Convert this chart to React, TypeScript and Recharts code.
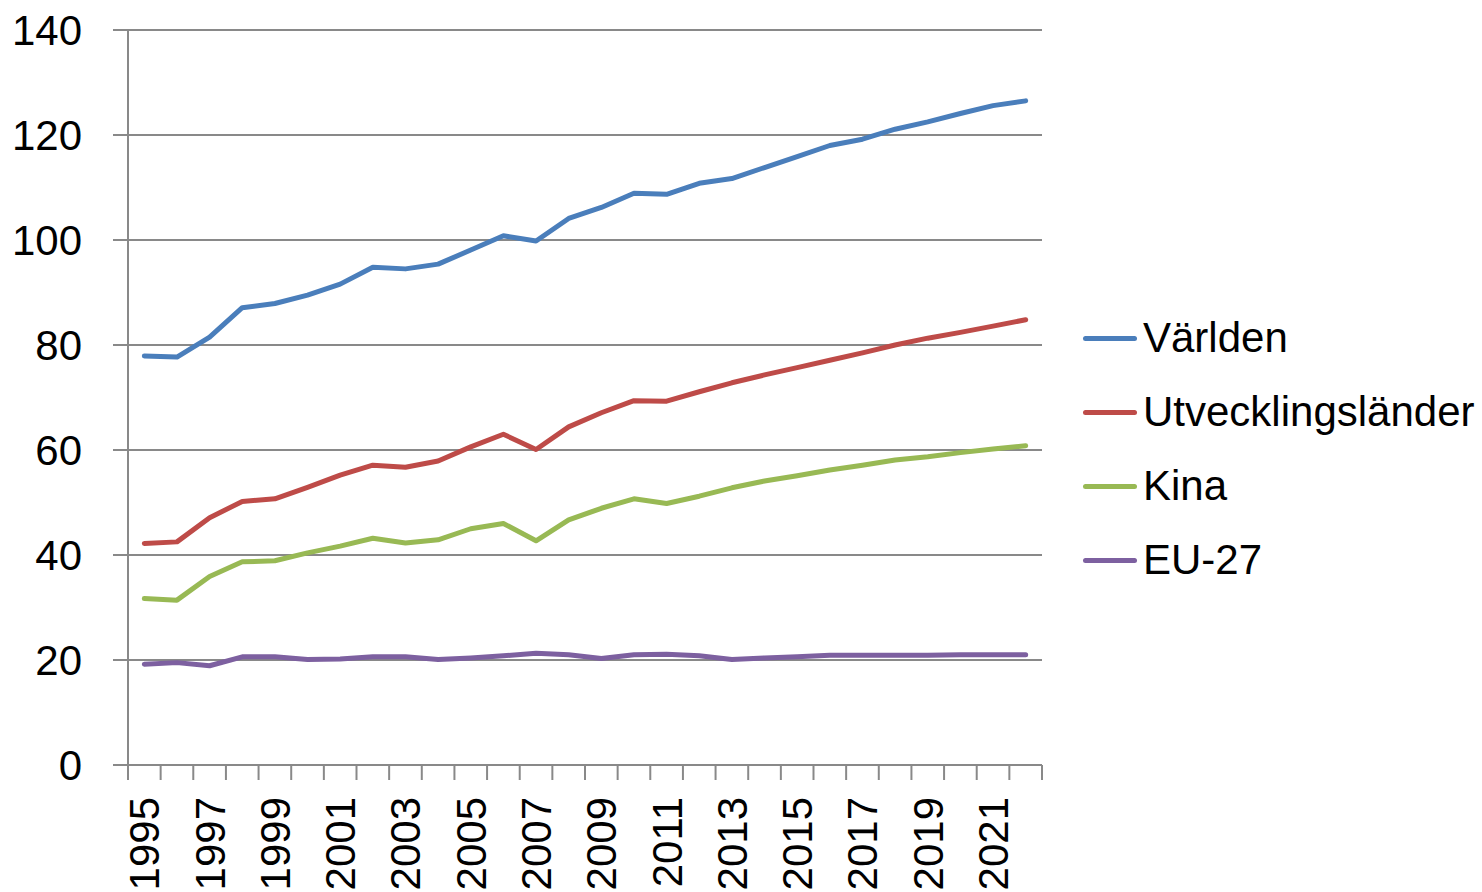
import React from 'react';
import { LineChart, Line, XAxis, YAxis, CartesianGrid } from 'recharts';

const years = [1995, 1996, 1997, 1998, 1999, 2000, 2001, 2002, 2003, 2004, 2005, 2006, 2007, 2008, 2009, 2010, 2011, 2012, 2013, 2014, 2015, 2016, 2017, 2018, 2019, 2020, 2021, 2022];

const varlden = [77.9, 77.7, 81.5, 87.1, 87.9, 89.5, 91.6, 94.8, 94.5, 95.4, 98.1, 100.8, 99.8, 104.1, 106.2, 108.9, 108.7, 110.8, 111.7, 113.8, 115.9, 118.0, 119.2, 121.1, 122.5, 124.1, 125.6, 126.5];
const utveckling = [42.2, 42.5, 47.1, 50.2, 50.7, 52.9, 55.2, 57.1, 56.7, 57.9, 60.6, 63.0, 60.1, 64.4, 67.1, 69.4, 69.3, 71.1, 72.8, 74.3, 75.7, 77.1, 78.5, 80.0, 81.3, 82.4, 83.6, 84.8];
const kina = [31.7, 31.4, 35.9, 38.7, 38.9, 40.4, 41.7, 43.2, 42.3, 42.9, 45.0, 46.0, 42.7, 46.7, 48.9, 50.7, 49.8, 51.2, 52.8, 54.1, 55.1, 56.2, 57.1, 58.1, 58.7, 59.5, 60.2, 60.8];
const eu27 = [19.2, 19.5, 18.9, 20.6, 20.6, 20.1, 20.2, 20.6, 20.6, 20.1, 20.4, 20.8, 21.3, 21.0, 20.3, 21.0, 21.1, 20.8, 20.1, 20.4, 20.6, 20.9, 20.9, 20.9, 20.9, 21.0, 21.0, 21.0];

const yTicks = [0, 20, 40, 60, 80, 100, 120, 140];
const labelYears = [1995, 1997, 1999, 2001, 2003, 2005, 2007, 2009, 2011, 2013, 2015, 2017, 2019, 2021];
const boundaries = [...years.map((y) => y - 0.5), years[years.length - 1] + 0.5];
const xTicks = [...boundaries, ...labelYears].sort((a, b) => a - b);

const seriesKeys = ['v', 'u', 'k', 'e'];
const seriesNames = ['Världen', 'Utvecklingsländer', 'Kina', 'EU-27'];
const seriesColors = ['#4A7EBB', '#BE4B48', '#98B954', '#7D60A0'];

const data = years.map((year, i) => ({
  year,
  v: varlden[i],
  u: utveckling[i],
  k: kina[i],
  e: eu27[i],
}));

const FONT = '"Liberation Sans", Arial, sans-serif';
const AXIS_COLOR = '#898989';

const XTick = (props: any) => {
  const { x, y, payload } = props;
  const v = payload.value;
  if (!Number.isInteger(v)) {
    return <line x1={x} x2={x} y1={y} y2={y + 15} stroke={AXIS_COLOR} strokeWidth={2} />;
  }
  return (
    <g transform={`translate(${x},${y})`}>
      <text
        transform="rotate(-90)"
        x={-32}
        y={15}
        textAnchor="end"
        fontFamily={FONT}
        fontSize={42}
        fill="#000"
      >
        {v}
      </text>
    </g>
  );
};

export default function App() {
  return (
    <div style={{ position: 'absolute', left: 0, top: 0, width: 1482, height: 892, background: '#fff', overflow: 'hidden' }}>
      <LineChart width={1482} height={892} data={data} margin={{ top: 30, right: 440, bottom: 0, left: 0 }}>
        <CartesianGrid vertical={false} stroke={AXIS_COLOR} strokeWidth={2} />
        <XAxis
          dataKey="year"
          type="number"
          domain={[1994.5, 2022.5]}
          ticks={xTicks}
          interval={0}
          allowDataOverflow
          height={127}
          tickSize={0}
          tickMargin={0}
          tickLine={false}
          axisLine={{ stroke: AXIS_COLOR, strokeWidth: 2 }}
          tick={<XTick />}
        />
        <YAxis
          domain={[0, 140]}
          ticks={yTicks}
          interval={0}
          width={128}
          tickSize={15}
          tickMargin={31}
          axisLine={{ stroke: AXIS_COLOR, strokeWidth: 2 }}
          tickLine={{ stroke: AXIS_COLOR, strokeWidth: 2 }}
          tick={{ fontFamily: FONT, fontSize: 42, fill: '#000' }}
        />
        {seriesKeys.map((key, i) => (
          <Line
            key={key}
            type="linear"
            dataKey={key}
            name={seriesNames[i]}
            stroke={seriesColors[i]}
            strokeWidth={5}
            dot={false}
            isAnimationActive={false}
            strokeLinecap="round"
            strokeLinejoin="round"
          />
        ))}
      </LineChart>
      <div style={{ position: 'absolute', left: 1083, top: 301, width: 399 }}>
        {seriesNames.map((name, i) => (
          <div key={name} style={{ height: 74, display: 'flex', alignItems: 'center' }}>
            <div style={{ width: 54, height: 5, background: seriesColors[i], borderRadius: 3, marginRight: 6, flex: 'none' }} />
            <span style={{ fontFamily: FONT, fontSize: 42, lineHeight: 1, color: '#000', whiteSpace: 'nowrap' }}>{name}</span>
          </div>
        ))}
      </div>
    </div>
  );
}
